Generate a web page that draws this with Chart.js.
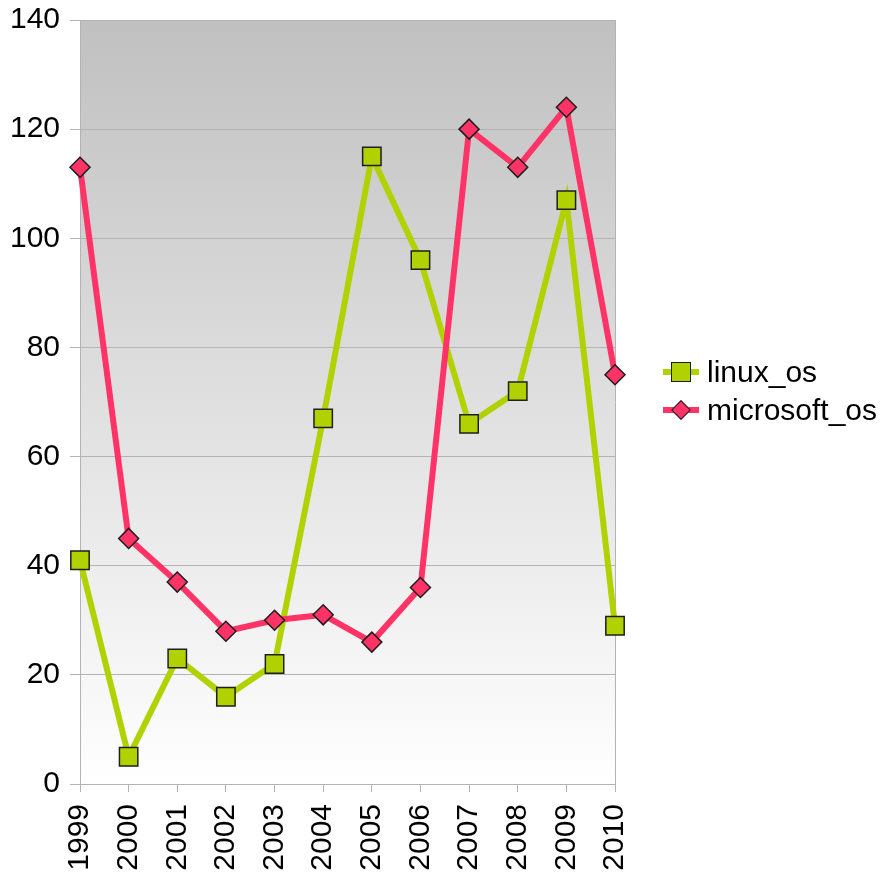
<!DOCTYPE html>
<html>
<head>
<meta charset="utf-8">
<script src="https://cdn.jsdelivr.net/npm/chart.js@4.4.1/dist/chart.umd.min.js"></script>
<style>
html,body{margin:0;padding:0;background:#fff;}
#wrap{position:relative;width:885px;height:877px;}
#legend{position:absolute;left:663px;top:353px;font-family:"Liberation Sans",Arial,sans-serif;font-size:30px;color:#000;}
.lg-row{display:flex;align-items:center;height:38px;}
.lg-key{position:relative;width:36px;height:38px;margin-right:8px;}
.lg-line{position:absolute;left:0;top:16px;width:36px;height:6px;}
.lg-mark{position:absolute;box-sizing:border-box;border:1.5px solid #1e1e1e;}
</style>
</head>
<body>
<div id="wrap">
<canvas id="myChart" width="885" height="877"></canvas>
<div id="legend"></div>
</div>
<script>
// 데이터
const years = ['1999','2000','2001','2002','2003','2004','2005','2006','2007','2008','2009','2010'];
const linux_os = [41, 5, 23, 16, 22, 67, 115, 96, 66, 72, 107, 29];
const microsoft_os = [113, 45, 37, 28, 30, 31, 26, 36, 120, 113, 124, 75];
const yMin = 0, yMax = 140, yStep = 20;

const gridColor = '#b3b3b3';
const fontFamily = '"Liberation Sans", Arial, sans-serif';

// 플롯 배경 그라데이션
const plotBack = {
	id: 'plotBack',
	beforeDraw(chart) {
		const ctx = chart.ctx, a = chart.chartArea;
		const g = ctx.createLinearGradient(0, a.top, 0, a.bottom);
		g.addColorStop(0, '#c0c0c0');
		g.addColorStop(1, '#ffffff');
		ctx.save();
		ctx.fillStyle = g;
		ctx.fillRect(a.left, a.top, a.right - a.left, a.bottom - a.top);
		ctx.restore();
	}
};

const ctx = document.getElementById('myChart');
const chart = new Chart(ctx, {
	type: 'line',
	data: {
		labels: years,
		datasets: [{
			label: 'linux_os',
			data: linux_os,
			order: 2,
			borderColor: '#b2d200',
			borderWidth: 6,
			pointStyle: 'rect',
			pointRadius: 13,
			pointHoverRadius: 13,
			pointBackgroundColor: '#b2d200',
			pointBorderColor: '#1e1e1e',
			pointBorderWidth: 1.5,
			tension: 0
		}, {
			label: 'microsoft_os',
			data: microsoft_os,
			order: 1,
			borderColor: '#ff3366',
			borderWidth: 6,
			pointStyle: 'rectRot',
			pointRadius: 10,
			pointHoverRadius: 10,
			pointBackgroundColor: '#ff3366',
			pointBorderColor: '#1e1e1e',
			pointBorderWidth: 1.5,
			tension: 0
		}]
	},
	options: {
		responsive: false,
		animation: false,
		layout: {padding: {top: 20, right: 270, bottom: 0, left: 0}},
		plugins: {
			tooltip: {enabled: false},
			legend: {display: false}
		},
		scales: {
			x: {
				offset: false,
				afterFit(scale) { scale.height = 93; scale.paddingLeft = 0; scale.paddingRight = 0; },
				grid: {display: true, drawOnChartArea: false, drawTicks: true, tickLength: 8, color: gridColor},
				border: {color: gridColor},
				ticks: {
					autoSkip: false, minRotation: 90, maxRotation: 90, padding: 12,
					color: '#000', font: {family: fontFamily, size: 30}
				}
			},
			y: {
				min: yMin, max: yMax,
				afterFit(scale) { scale.width = 80; scale.paddingTop = 0; scale.paddingBottom = 0; },
				grid: {color: gridColor, tickLength: 10},
				border: {color: gridColor},
				ticks: {
					stepSize: yStep, padding: 10,
					color: '#000', font: {family: fontFamily, size: 30}
				}
			},
			y2: {
				position: 'right',
				afterFit(scale) { scale.width = 0; scale.paddingTop = 0; scale.paddingBottom = 0; },
				grid: {drawOnChartArea: false, drawTicks: false},
				border: {color: gridColor},
				ticks: {display: false}
			}
		}
	},
	plugins: [plotBack]
});

// 범례 (선 + 마커 + 텍스트)
const legendBox = document.getElementById('legend');
chart.data.datasets.forEach(function(ds) {
	const row = document.createElement('div');
	row.className = 'lg-row';
	let mark;
	if (ds.pointStyle === 'rect') {
		mark = '<div class="lg-mark" style="left:8px;top:9px;width:20px;height:20px;background:' + ds.pointBackgroundColor + '"></div>';
	} else {
		mark = '<div class="lg-mark" style="left:11px;top:12px;width:14px;height:14px;transform:rotate(45deg);background:' + ds.pointBackgroundColor + '"></div>';
	}
	row.innerHTML = ''
		+ '<div class="lg-key">'
		+ '<div class="lg-line" style="background:' + ds.borderColor + '"></div>'
		+ mark
		+ '</div>'
		+ '<span>' + ds.label + '</span>';
	legendBox.appendChild(row);
});
</script>
</body>
</html>
